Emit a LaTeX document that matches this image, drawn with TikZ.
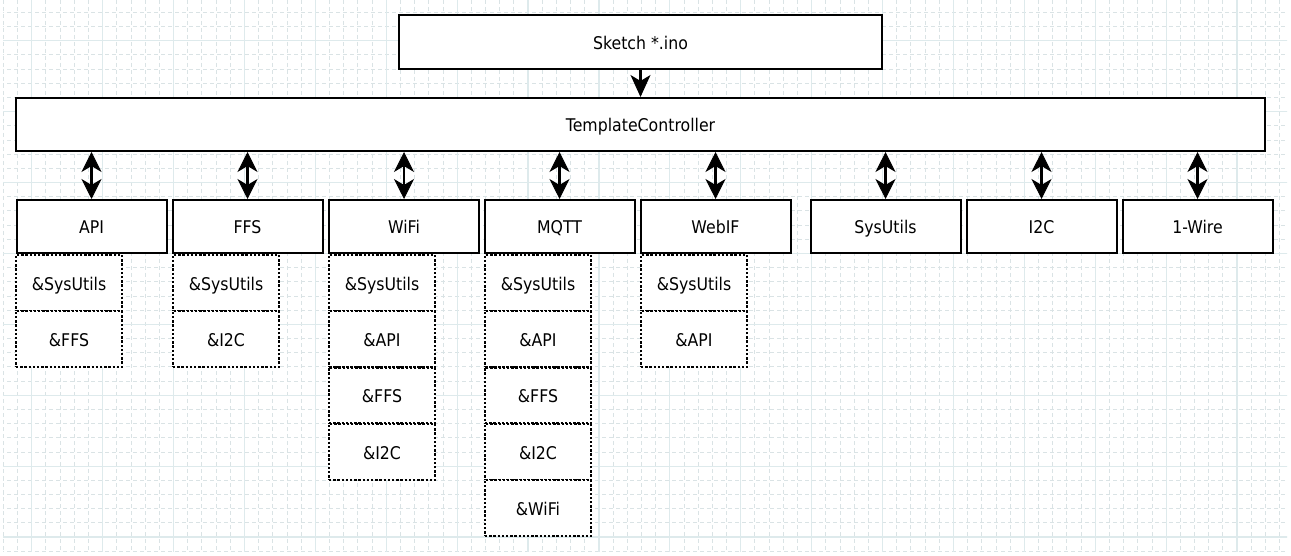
\documentclass[tikz,border=0pt]{standalone}
\usepackage{fontspec}
\setmainfont{DejaVu Sans}[FakeStretch=0.9]
\usetikzlibrary{arrows.meta}
\definecolor{gridminor}{RGB}{218,227,229}
\definecolor{gridmajor}{RGB}{222,234,236}
\tikzset{
  solidbox/.style={draw=black, line width=2pt, fill=white, rectangle, inner sep=0pt,
    text height=14.5pt, text depth=0pt, font=\fontsize{17.5}{20}\selectfont},
  modbox/.style={solidbox, minimum width=150pt, minimum height=53pt},
  refbox/.style={draw=black, line width=2.4pt, dash pattern=on 2.4pt off 1.8pt, fill=white,
    rectangle, inner sep=0pt, minimum width=106pt, minimum height=56pt,
    text height=14.5pt, text depth=0pt, font=\fontsize{17.5}{20}\selectfont},
  headtip/.tip={Stealth[length=20pt,width=20pt,inset=6pt,line width=1pt]},
  dblarrow/.style={line width=2.2pt, headtip-headtip},
  onearrow/.style={line width=2.2pt, -{Stealth[length=22pt,width=20pt,inset=6pt,line width=1pt]}},
}
\begin{document}
\begin{tikzpicture}[x=1pt,y=-1pt]
\useasboundingbox (0,0) rectangle (1291,556);
\fill[white] (0,0) rectangle (1291,556);
% grid
\begin{scope}
\clip (3,0) rectangle (1287,552);
\foreach \i in {-2,...,90} {
  \draw[gridminor, line width=0.8pt, dash pattern=on 4pt off 3pt] ({31.7+\i*14.18},0) -- ({31.7+\i*14.18},552);
}
\foreach \i in {-3,...,38} {
  \draw[gridminor, line width=0.8pt, dash pattern=on 4pt off 3pt] (0,{40.7+\i*14.18}) -- (1291,{40.7+\i*14.18});
}
\foreach \i in {0,...,18} {
  \draw[gridmajor, line width=1.2pt] ({31.7+\i*70.9},0) -- ({31.7+\i*70.9},552);
}
\foreach \i in {-1,...,7} {
  \draw[gridmajor, line width=1.2pt] (0,{40.7+\i*70.9}) -- (1291,{40.7+\i*70.9});
}
\end{scope}

\node[solidbox, minimum width=483pt, minimum height=54pt] (sketch) at (640.5,42) {Sketch *.ino};
\node[solidbox, minimum width=1249pt, minimum height=53pt] (tc) at (640.5,124.5) {TemplateController};

\node[modbox] (api) at (91.5,226.5) {API};
\node[modbox] (ffs) at (247.5,226.5) {FFS};
\node[modbox] (wifi) at (404,226.5) {WiFi};
\node[modbox] (mqtt) at (559.5,226.5) {MQTT};
\node[modbox] (webif) at (715.5,226.5) {WebIF};
\node[modbox] (sysutils) at (885.5,226.5) {SysUtils};
\node[modbox] (itwoc) at (1041.5,226.5) {I2C};
\node[modbox] (onewire) at (1197.5,226.5) {1-Wire};

% API refs
\node[refbox] (apiA) at (69,283) {\&SysUtils};
\node[refbox] (apiB) at (69,339) {\&FFS};
% FFS refs
\node[refbox] (ffsA) at (226,283) {\&SysUtils};
\node[refbox] (ffsB) at (226,339) {\&I2C};
% WiFi refs
\node[refbox] (wifiA) at (382,283) {\&SysUtils};
\node[refbox] (wifiB) at (382,339) {\&API};
\node[refbox] (wifiC) at (382,395.5) {\&FFS};
\node[refbox] (wifiD) at (382,452) {\&I2C};
% MQTT refs
\node[refbox] (mqttA) at (538,283) {\&SysUtils};
\node[refbox] (mqttB) at (538,339) {\&API};
\node[refbox] (mqttC) at (538,395.5) {\&FFS};
\node[refbox] (mqttD) at (538,452) {\&I2C};
\node[refbox] (mqttE) at (538,508) {\&WiFi};
% WebIF refs
\node[refbox] (webifA) at (694,283) {\&SysUtils};
\node[refbox] (webifB) at (694,339) {\&API};

% connectors
\draw[onearrow] (sketch.south) -- (tc.north);
\foreach \m in {api,ffs,wifi,mqtt,webif,sysutils,itwoc,onewire} {
  \draw[dblarrow] (tc.south -| \m.north) -- (\m.north);
}
\end{tikzpicture}
\end{document}
